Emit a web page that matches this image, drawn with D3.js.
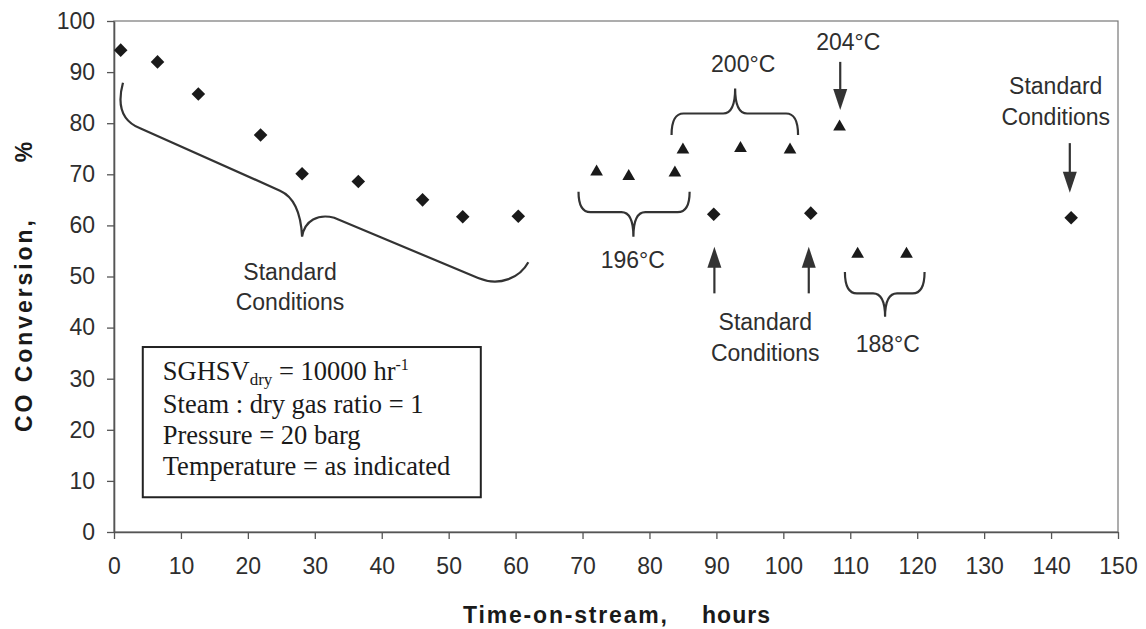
<!DOCTYPE html>
<html>
<head>
<meta charset="utf-8">
<script src="https://cdn.jsdelivr.net/npm/d3@7"></script>
<style>
  html, body { margin: 0; padding: 0; background: #ffffff; }
  svg { display: block; }
</style>
</head>
<body>
<svg id="chart" width="1146" height="629"></svg>
<script>
// ---- data ----
const xTickValues = [0, 10, 20, 30, 40, 50, 60, 70, 80, 90, 100, 110, 120, 130, 140, 150];
const yTickValues = [0, 10, 20, 30, 40, 50, 60, 70, 80, 90, 100];
// Standard conditions (diamonds)
const standardTime = [1.0, 6.5, 12.6, 21.9, 28.1, 36.5, 46.1, 52.1, 60.4, 89.6, 104.1, 143.0];
const standardConv = [94.3, 92.0, 85.7, 77.7, 70.1, 68.6, 65.0, 61.7, 61.8, 62.2, 62.4, 61.5];
// Varied temperature (triangles)
const variedTime = [72.1, 76.9, 83.8, 85.0, 93.6, 101.0, 108.4, 111.1, 118.4];
const variedConv = [70.5, 69.6, 70.3, 74.8, 75.1, 74.8, 79.3, 54.4, 54.4];
const xTitle = ["Time-on-stream,", "hours"];
const yTitle = ["CO Conversion,", "%"];
const boxLines = ["Steam : dry gas ratio = 1", "Pressure = 20 barg", "Temperature = as indicated"];

// ---- layout ----
const svg = d3.select("#chart");
const L = 114, R = 1118, T = 21, B = 532;
const x = d3.scaleLinear().domain([0, 150]).range([L, R]);
const y = d3.scaleLinear().domain([0, 100]).range([B, T]);
const ink = "#1a1a1a", txt = "#2e2e2e", axisCol = "#555";
const sans = "'Liberation Sans', Arial, sans-serif";
const serif = "'Liberation Serif', 'Times New Roman', serif";

// frame (top/right)
svg.append("rect").attr("x", L).attr("y", T).attr("width", R - L).attr("height", B - T)
  .attr("fill", "none").attr("stroke", "#777").attr("stroke-width", 1.2);

// axes
const xAxis = svg.append("g").attr("transform", `translate(0,${B})`)
  .call(d3.axisBottom(x).tickValues(xTickValues).tickSize(7).tickPadding(19).tickSizeOuter(0));
const yAxis = svg.append("g").attr("transform", `translate(${L},0)`)
  .call(d3.axisLeft(y).tickValues(yTickValues).tickSize(7).tickPadding(12).tickSizeOuter(0));
[xAxis, yAxis].forEach(g => {
  g.select(".domain").attr("stroke", axisCol).attr("stroke-width", 1.6);
  g.selectAll(".tick line").attr("stroke", axisCol).attr("stroke-width", 1.3);
  g.selectAll(".tick text").attr("fill", txt).style("font-family", sans).style("font-size", "23px");
});

// axis titles
function title(str, transform, len, anchor) {
  const t = svg.append("text").attr("transform", transform).text(str)
    .style("font-family", sans).style("font-weight", "bold").style("font-size", "23px")
    .attr("fill", ink).attr("text-anchor", anchor || "start");
  if (len) t.attr("textLength", len).attr("lengthAdjust", "spacing");
}
title(xTitle[0], "translate(463,623)", 204);
title(xTitle[1], "translate(702,623)", 68);
title(yTitle[0], "translate(32,432) rotate(-90)", 212);
title(yTitle[1], "translate(32,152) rotate(-90)", null, "middle");

// markers
const diamond = d3.symbol().type(d3.symbolSquare).size(92);
svg.append("g").selectAll("path").data(standardTime).join("path")
  .attr("d", diamond)
  .attr("transform", (d, i) => `translate(${x(d)},${y(standardConv[i])}) rotate(45)`)
  .attr("fill", ink);
const tri = d3.symbol().type(d3.symbolTriangle).size(70);
svg.append("g").selectAll("path").data(variedTime).join("path")
  .attr("d", tri)
  .attr("transform", (d, i) => `translate(${x(d)},${y(variedConv[i])})`)
  .attr("fill", ink);

// ---- annotations ----
const ann = svg.append("g");
function label(lines, xd, yd, gap) {
  lines.forEach((s, i) => {
    ann.append("text").attr("x", x(xd)).attr("y", y(yd) + i * gap).attr("text-anchor", "middle")
      .text(s).style("font-family", sans).style("font-size", "23px").attr("fill", txt);
  });
}
function brace(x1, x2, xc, yEnd, yMid, yCusp) {
  const X1 = x(x1), X2 = x(x2), XC = x(xc), YE = y(yEnd), YM = y(yMid), YC = y(yCusp);
  const r = 12;
  const p = d3.path();
  p.moveTo(X1, YE);
  p.quadraticCurveTo(X1, YM, X1 + r, YM);
  p.lineTo(XC - r, YM);
  p.quadraticCurveTo(XC, YM, XC, YC);
  p.quadraticCurveTo(XC, YM, XC + r, YM);
  p.lineTo(X2 - r, YM);
  p.quadraticCurveTo(X2, YM, X2, YE);
  ann.append("path").attr("d", p.toString()).attr("fill", "none").attr("stroke", "#333").attr("stroke-width", 2.2);
}
function arrow(xd, yFrom, yTip) {
  const X = x(xd), Y0 = y(yFrom), Y1 = y(yTip);
  const dir = Y1 > Y0 ? 1 : -1;
  const head = 21, hw = 7;
  ann.append("line").attr("x1", X).attr("x2", X).attr("y1", Y0).attr("y2", Y1 - dir * head + dir * 2)
    .attr("stroke", "#333").attr("stroke-width", 2.2);
  ann.append("path").attr("d", `M${X},${Y1} L${X - hw},${Y1 - dir * head} L${X + hw},${Y1 - dir * head} Z`)
    .attr("fill", "#333");
}

// big curly brace under early points
const bigBrace = [
  [1.34, 87.9], [0.45, 83.6], [1.2, 80.4], [3.9, 79.0], [24.8, 66.8],
  [26.7, 65.7], [27.9, 63.2], [28.1, 57.8],
  [28.5, 61.0], [30.5, 62.3], [32.9, 61.5], [54.4, 49.7],
  [57.7, 47.9], [60.7, 49.9], [61.9, 52.8]
];
{
  const P = bigBrace.map(([a, b]) => [x(a), y(b)]);
  const p = d3.path();
  p.moveTo(...P[0]);
  p.bezierCurveTo(...P[1], ...P[2], ...P[3]);
  p.lineTo(...P[4]);
  p.bezierCurveTo(...P[5], ...P[6], ...P[7]);
  p.bezierCurveTo(...P[8], ...P[9], ...P[10]);
  p.lineTo(...P[11]);
  p.bezierCurveTo(...P[12], ...P[13], ...P[14]);
  ann.append("path").attr("d", p.toString()).attr("fill", "none").attr("stroke", "#333").attr("stroke-width", 2.2);
}
label(["Standard", "Conditions"], 26.3, 49.3, 30);

brace(69.4, 86.0, 77.6, 66.6, 62.6, 57.8);
label(["196°C"], 77.5, 51.7, 0);
brace(83.3, 102.2, 92.8, 77.7, 81.9, 86.8);
label(["200°C"], 94.0, 90.0, 0);
label(["204°C"], 109.7, 94.3, 0);
arrow(108.5, 92.0, 82.6);
brace(109.2, 121.1, 115.2, 50.9, 46.7, 42.1);
label(["188°C"], 115.6, 35.2, 0);
arrow(89.7, 46.7, 55.8);
arrow(103.8, 46.7, 55.8);
label(["Standard", "Conditions"], 97.3, 39.5, 31);
label(["Standard", "Conditions"], 140.7, 85.7, 31);
arrow(142.8, 76.1, 66.4);

// info box
const bx0 = x(4.3), bx1 = x(54.8), by0 = y(36.2), by1 = y(6.8);
svg.append("rect").attr("x", bx0).attr("y", by0).attr("width", bx1 - bx0).attr("height", by1 - by0)
  .attr("fill", "#fff").attr("stroke", "#222").attr("stroke-width", 2);
const tx = bx0 + 20;
const t1 = svg.append("text").attr("x", tx).attr("y", 380).style("font-family", serif)
  .style("font-size", "26.5px").attr("fill", ink);
t1.append("tspan").text("SGHSV");
t1.append("tspan").attr("dy", 5).style("font-size", "17px").text("dry");
t1.append("tspan").attr("dy", -5).text(" = 10000 hr");
t1.append("tspan").attr("dy", -10).style("font-size", "16px").text("-1");
boxLines.forEach((s, i) => {
  svg.append("text").attr("x", tx).attr("y", 413 + i * 31).text(s)
    .style("font-family", serif).style("font-size", "26.5px").attr("fill", ink);
});
</script>
</body>
</html>
